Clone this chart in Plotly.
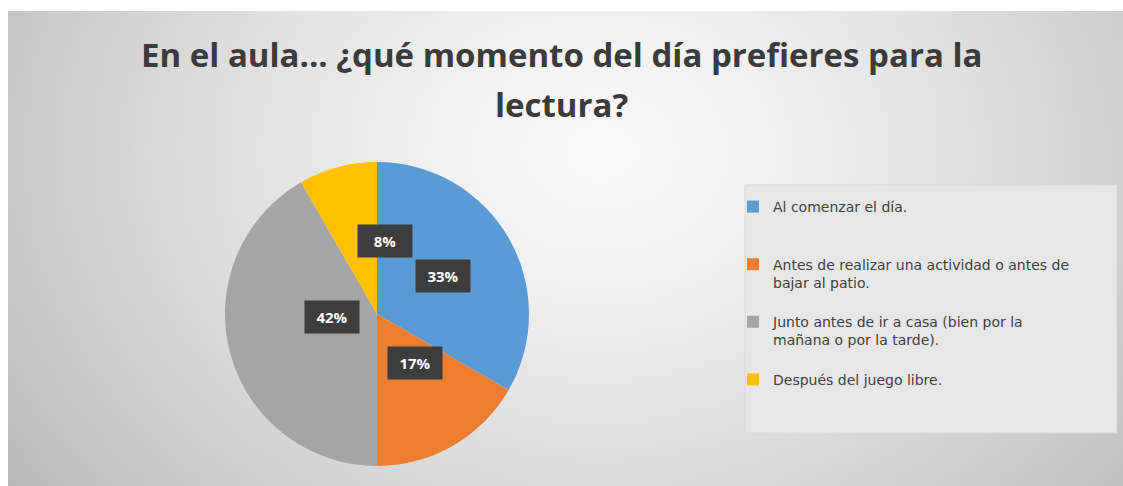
import base64, struct, zlib
import numpy as np
import plotly.graph_objects as go

# ---- data ----
categories = [
    "Al comenzar el día.",
    "Antes de realizar una actividad o antes de<br>bajar al patio.",
    "Junto antes de ir a casa (bien por la<br>mañana o por la tarde).",
    "Después del juego libre.",
]
values = [4, 2, 5, 1]
colors = ["#5B9BD5", "#ED7D31", "#A5A5A5", "#FFC000"]
title_lines = ["En el aula... ¿qué momento del día prefieres para la", "lectura?"]

W, H = 1123, 486

# ---- gradient background image (PNG data URI) ----
def make_png(arr):
    h, w = arr.shape
    raw = b"".join(b"\x00" + bytes(row) for row in arr.astype(np.uint8))
    def chunk(t, d):
        c = struct.pack(">I", len(d)) + t + d
        return c + struct.pack(">I", zlib.crc32(t + d) & 0xffffffff)
    png = b"\x89PNG\r\n\x1a\n"
    png += chunk(b"IHDR", struct.pack(">IIBBBBB", w, h, 8, 0, 0, 0, 0))
    png += chunk(b"IDAT", zlib.compress(raw, 9))
    png += chunk(b"IEND", b"")
    return "data:image/png;base64," + base64.b64encode(png).decode()

gw, gh = 223, 95
xs = np.linspace(8, W, gw)
ys = np.linspace(11, H, gh)
X, Y = np.meshgrid(xs, ys)
d = np.sqrt(((X - 600) / 700) ** 2 + ((Y - 150) / 560) ** 2)
grad = 249 - 60 * np.clip(d, 0, 1.1) ** 1.4
img_src = make_png(np.clip(grad, 0, 255))

fig = go.Figure()

# pie placement (pixels)
cx, cy, r = 377, 314, 152
fig.add_trace(go.Pie(
    labels=categories,
    values=values,
    sort=False,
    direction="clockwise",
    rotation=0,
    marker=dict(colors=colors, line=dict(width=0)),
    textinfo="none",
    hoverinfo="label+percent",
    domain=dict(x=[(cx - r) / W, (cx + r) / W], y=[(H - cy - r) / H, (H - cy + r) / H]),
))

annotations = []
# data labels at half radius of each slice
total = sum(values)
cum = 0
for v in values:
    mid = (cum + v / 2) / total * 2 * np.pi
    cum += v
    px = cx + 0.5 * r * np.sin(mid)
    py = cy - 0.5 * r * np.cos(mid)
    annotations.append(dict(
        x=px / W, y=(H - py) / H, xref="paper", yref="paper",
        text=f"<b>{round(v / total * 100)}%</b>", showarrow=False,
        font=dict(family="Open Sans, Lato, sans-serif", size=15, color="white"),
        bgcolor="#3d3d3d", borderpad=6, width=42, height=20,
    ))

# title (two lines)
for line, ty in zip(title_lines, [55, 105]):
    annotations.append(dict(
        text=f"<b>{line}</b>", x=0.5, y=1 - ty / H, xref="paper", yref="paper",
        xanchor="center", yanchor="middle", showarrow=False,
        font=dict(family="Open Sans, sans-serif", size=33, color="#3b3b3b"),
    ))

# legend labels padded with blank lines to mimic the roomy spacing
legend_names = [c + "<br> " * (3 - 1 - c.count("<br>")) for c in categories]
fig.data[0].labels = legend_names

fig.update_layout(
    width=W, height=H,
    margin=dict(l=0, r=0, t=0, b=0),
    paper_bgcolor="white",
    plot_bgcolor="rgba(0,0,0,0)",
    images=[dict(source=img_src, xref="paper", yref="paper",
                 x=8 / W, y=1 - 11 / H, sizex=(W - 8) / W, sizey=(H - 11) / H,
                 xanchor="left", yanchor="top", sizing="stretch", layer="below")],
    shapes=[
        dict(type="rect", xref="paper", yref="paper",
             x0=0, x1=1, y0=1 - 11 / H, y1=1,
             fillcolor="white", line=dict(width=0), layer="below"),
        dict(type="rect", xref="paper", yref="paper",
             x0=745 / W, x1=1117 / W, y0=1 - 433 / H, y1=1 - 185 / H,
             fillcolor="#e7e7e7", line=dict(color="#dadada", width=1), layer="below"),
    ],
    annotations=annotations,
    showlegend=True,
    legend=dict(
        x=733 / W, y=1 - 191 / H, xanchor="left", yanchor="top",
        bgcolor="rgba(0,0,0,0)", borderwidth=0,
        font=dict(family="DejaVu Sans, sans-serif", size=14, color="#404040"),
        itemwidth=30, valign="top",
    ),
)

fig.write_html("out.html", config={"displayModeBar": False},
               post_script="document.body.style.margin='0';")
